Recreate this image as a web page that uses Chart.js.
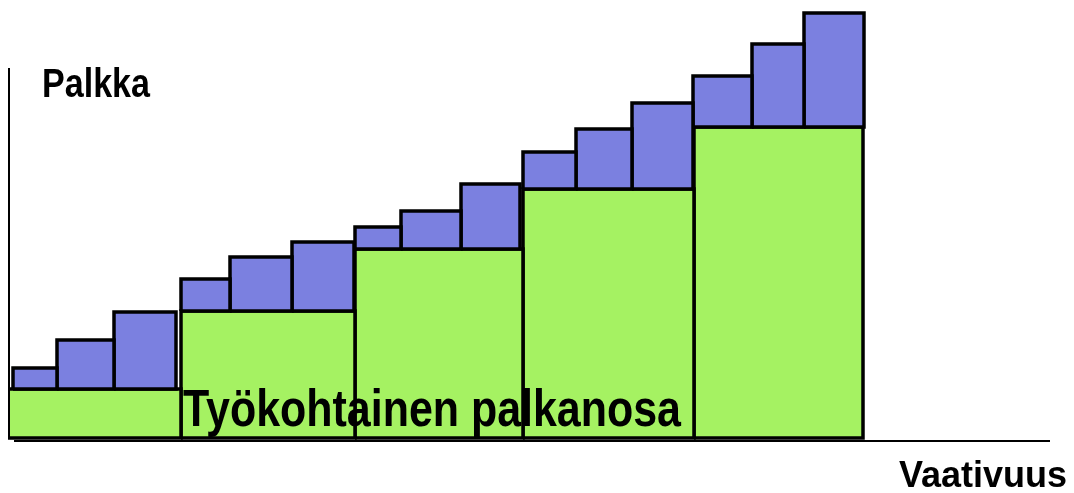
<!DOCTYPE html>
<html>
<head>
<meta charset="utf-8">
<script src="https://cdn.jsdelivr.net/npm/chart.js@4.4.1/dist/chart.umd.min.js"></script>
<style>
  html, body { margin: 0; padding: 0; background: #ffffff; }
  #wrap { width: 1074px; height: 493px; position: relative; }
</style>
</head>
<body>
<div id="wrap"><canvas id="c" width="1074" height="493"></canvas></div>
<script>
// Vaativuus (job demand) grade boundaries
const gradeEdges = [0, 173, 347, 515, 686, 855];
// Työkohtainen palkanosa (job-based pay) per grade
const jobPay = [49, 127, 189, 249, 311];
// Henkilökohtainen osa: step boundaries within each grade
const stepEdges = [
  [5, 49, 106, 168],
  [173, 222, 284, 346],
  [347, 393, 453, 512],
  [515, 568, 624, 685],
  [685, 744, 796, 856]
];
// Total pay (job-based + personal) for each step
const totalPay = [
  [70, 98, 126],
  [159, 181, 196],
  [211, 227, 254],
  [286, 309, 335],
  [362, 394, 425]
];
// Texts
const yTitle = 'Palkka';
const xTitle = 'Vaativuus';
const blockLabel = 'Työkohtainen palkanosa';

const GREEN = '#a5f262';
const BLUE = '#7b80e0';
const FONT = "'Liberation Sans', Arial, sans-serif";

function rect(x0, x1, y0, y1) {
  return [{x: x0, y: y0}, {x: x0, y: y1}, {x: x1, y: y1}, {x: x1, y: y0}, {x: x0, y: y0}];
}

const datasets = [];
for (let i = 0; i < jobPay.length; i++) {
  datasets.push({
    label: 'job' + i,
    data: rect(gradeEdges[i], gradeEdges[i + 1], 0, jobPay[i]),
    backgroundColor: GREEN,
    borderColor: '#000000',
    borderWidth: 3.5,
    fill: 'shape',
    order: 2
  });
}
for (let i = 0; i < totalPay.length; i++) {
  for (let j = 0; j < totalPay[i].length; j++) {
    datasets.push({
      label: 'step' + i + '-' + j,
      data: rect(stepEdges[i][j], stepEdges[i][j + 1], jobPay[i], totalPay[i][j]),
      backgroundColor: BLUE,
      borderColor: '#000000',
      borderWidth: 3.5,
      fill: 'shape',
      order: 1
    });
  }
}

// draw text squeezed horizontally to imitate a narrow bold face
function narrowText(ctx, text, x, y, size, width) {
  ctx.font = 'bold ' + size + 'px ' + FONT;
  const w = ctx.measureText(text).width;
  ctx.save();
  ctx.translate(x, y);
  ctx.scale(width / w, 1);
  ctx.fillText(text, 0, 0);
  ctx.restore();
}

const textPlugin = {
  id: 'texts',
  afterDatasetsDraw(chart) {
    const {ctx, chartArea, scales} = chart;
    ctx.save();
    // axes
    ctx.strokeStyle = '#000000';
    ctx.lineWidth = 2;
    ctx.beginPath();
    ctx.moveTo(chartArea.left + 1, 68);
    ctx.lineTo(chartArea.left + 1, scales.y.getPixelForValue(0));
    ctx.stroke();
    ctx.beginPath();
    ctx.moveTo(chartArea.left + 6, chartArea.bottom - 1);
    ctx.lineTo(chartArea.right, chartArea.bottom - 1);
    ctx.stroke();
    // labels
    ctx.fillStyle = '#000000';
    ctx.textAlign = 'left';
    ctx.textBaseline = 'alphabetic';
    narrowText(ctx, blockLabel, scales.x.getPixelForValue(gradeEdges[1]) + 2, 426, 52, 498);
    narrowText(ctx, yTitle, 42, 97, 40, 108);
    narrowText(ctx, xTitle, 899, 487, 36, 168);
    ctx.restore();
  }
};

new Chart(document.getElementById('c'), {
  type: 'scatter',
  data: { datasets },
  options: {
    responsive: false,
    animation: false,
    showLine: true,
    layout: { padding: { left: 8, right: 24, top: 10, bottom: 51 } },
    elements: {
      point: { radius: 0, hoverRadius: 0 },
      line: { tension: 0, borderJoinStyle: 'miter' }
    },
    plugins: { legend: { display: false }, tooltip: { enabled: false }, title: { display: false } },
    scales: {
      x: { type: 'linear', min: 0, max: 1042, display: false },
      y: { type: 'linear', min: -4, max: 428, display: false }
    }
  },
  plugins: [textPlugin]
});
</script>
</body>
</html>
